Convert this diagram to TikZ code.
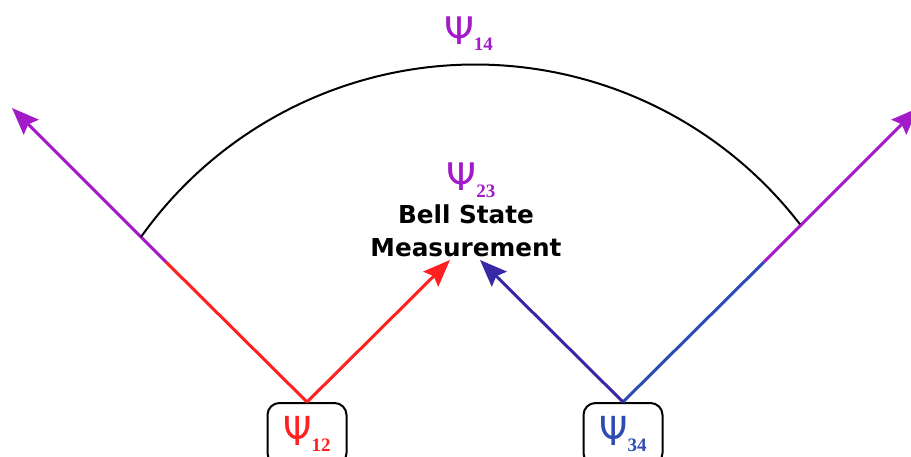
\documentclass[tikz,border=0pt]{standalone}
\usepackage{fontspec}
\usetikzlibrary{arrows.meta}
\newfontfamily\psifont{DejaVu Sans}
\newfontfamily\boxpsifont{DejaVu Sans Condensed}
\newfontfamily\subfont{Liberation Serif}
\newfontfamily\bsmfont{DejaVu Sans}
\definecolor{psiPurple}{RGB}{163,26,200}
\definecolor{psiRed}{RGB}{255,32,32}
\definecolor{psiIndigo}{RGB}{55,40,165}
\definecolor{psiBlue}{RGB}{45,75,178}
% Psi with a bold serif subscript
\newcommand{\PsiSub}[3][\psifont]{{#1\fontsize{#2}{#2}\selectfont\char"03A8}\raisebox{-6pt}{\subfont\bfseries\fontsize{19}{19}\selectfont #3}}
\tikzset{
  beam/.style={line width=3pt},
  beamtip/.style={beam, -{Stealth[length=27pt, width=21pt, inset=4pt]}},
  statebox/.style={draw, line width=2pt, rounded corners=12pt, minimum width=79pt,
    minimum height=62pt, inner sep=0pt},
  sweep/.style={line width=2pt, black},
}
\begin{document}
\begin{tikzpicture}[x=1pt, y=1pt]
  \useasboundingbox (0,0) rectangle (911,456);
  \clip (0,0) rectangle (911,456);

  % source pair boxes
  \node[statebox, text=psiRed] (box12) at (307,22) {\PsiSub[\boxpsifont]{40}{12}};
  \node[statebox, text=psiBlue] (box34) at (623,22) {\PsiSub[\boxpsifont]{40}{34}};

  % beam turning points, tips and the ends of the sweep arc
  \coordinate (lmid) at (166,194);
  \coordinate (ltip) at (12,348);
  \coordinate (rmid) at (764,194);
  \coordinate (rtip) at (918,348);
  \coordinate (redtip) at (450,196);
  \coordinate (bluetip) at (480,196);
  \coordinate (lhit) at (141,219);

  % outer beams
  \draw[beam, psiRed] (box12.north) -- (lmid);
  \draw[beamtip, psiPurple] (lmid) -- (ltip);
  \draw[beam, psiBlue] (box34.north) -- (rmid);
  \draw[beamtip, psiPurple] (rmid) -- (rtip);

  % inner beams into the measurement
  \draw[beamtip, psiRed] (box12.north) -- (redtip);
  \draw[beamtip, psiIndigo] (box34.north) -- (bluetip);

  % sweep between the outer beams
  \draw[sweep] (lhit) arc[start angle=144.6, end angle=37.6, radius=410];

  % labels
  \node[anchor=base, text=psiPurple, inner sep=0pt] (psi14) at (468.5,411) {\PsiSub{38}{14}};
  \node[anchor=base, text=psiPurple, inner sep=0pt] (psi23) at (471,265) {\PsiSub{38}{23}};
  \node[anchor=base, align=center, inner sep=0pt,
        font=\bsmfont\bfseries\fontsize{24.7}{32.5}\selectfont] (bsm) at (466,200)
        {Bell State\\Measurement};
\end{tikzpicture}
\end{document}
